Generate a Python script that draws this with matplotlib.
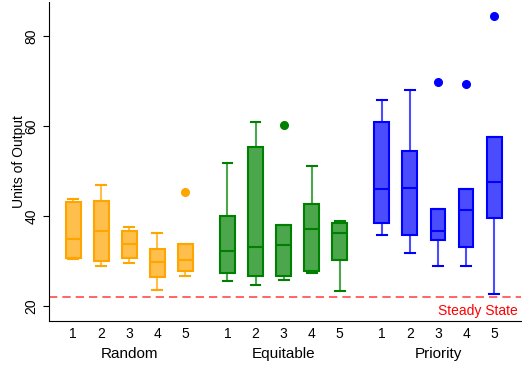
import matplotlib
matplotlib.use("Agg")
import matplotlib.pyplot as plt
from matplotlib.colors import to_rgba
import matplotlib.transforms as mtransforms

plt.rcParams['font.family'] = ['Liberation Sans', 'DejaVu Sans']

groups = ["Random", "Equitable", "Priority"]
colors = ["orange", "green", "blue"]
tick_labels = ["1", "2", "3", "4", "5"]

random_q1 = [30.7, 30.1, 30.6, 26.4, 27.9]
random_med = [34.8, 36.7, 33.7, 29.7, 30.3]
random_q3 = [43.2, 43.3, 36.8, 32.6, 33.8]
random_lo = [30.4, 29.0, 29.6, 23.6, 26.7]
random_hi = [43.7, 47.0, 37.6, 36.3, 33.8]
random_fliers = [[], [], [], [], [45.3]]

equit_q1 = [27.4, 26.7, 26.7, 27.8, 30.2]
equit_med = [32.3, 33.2, 33.5, 37.2, 36.2]
equit_q3 = [40.1, 55.3, 38.1, 42.7, 38.4]
equit_lo = [25.6, 24.7, 25.8, 27.3, 23.3]
equit_hi = [51.8, 61.0, 38.1, 51.2, 39.0]
equit_fliers = [[], [], [60.2], [], []]

prio_q1 = [38.5, 35.8, 34.7, 33.2, 39.5]
prio_med = [46.0, 46.3, 36.7, 41.4, 47.6]
prio_q3 = [60.9, 54.4, 41.5, 46.1, 57.5]
prio_lo = [35.8, 31.8, 29.0, 29.0, 22.7]
prio_hi = [65.9, 68.1, 41.5, 46.1, 57.5]
prio_fliers = [[], [], [69.9], [69.3], [84.5]]

steady_state = 22.0

group_data = [
    (random_q1, random_med, random_q3, random_lo, random_hi, random_fliers),
    (equit_q1, equit_med, equit_q3, equit_lo, equit_hi, equit_fliers),
    (prio_q1, prio_med, prio_q3, prio_lo, prio_hi, prio_fliers),
]
group_starts = [1.0, 6.5, 12.0]

fig = plt.figure(figsize=(5.23, 3.67), dpi=100)
ax = fig.add_axes([0.0937, 0.1253, 0.902, 0.869])

all_pos = []
all_labels = []
for (q1, med, q3, lo, hi, fl), start, col in zip(group_data, group_starts, colors):
    stats = []
    for i in range(5):
        stats.append(dict(q1=q1[i], med=med[i], q3=q3[i], whislo=lo[i], whishi=hi[i], fliers=fl[i]))
    pos = [start + i for i in range(5)]
    all_pos += pos
    all_labels += tick_labels
    ax.bxp(stats, positions=pos, widths=0.53, capwidths=0.35, patch_artist=True, manage_ticks=False,
           boxprops=dict(facecolor=to_rgba(col, 0.7), edgecolor=col, linewidth=1.5),
           medianprops=dict(color=col, linewidth=1.5),
           whiskerprops=dict(color=to_rgba(col, 0.7), linewidth=1.5),
           capprops=dict(color=col, linewidth=1.5),
           flierprops=dict(marker='o', markerfacecolor=col, markeredgecolor=col, markersize=5.5))

ax.axhline(steady_state, color='red', linestyle=(0, (5, 3)), linewidth=1.2, alpha=0.7)
ax.text(16.85, steady_state - 1.5, "Steady State", color='red', ha='right', va='top', fontsize=10)

ax.set_xlim(0.14, 16.95)
ax.set_ylim(16.67, 87.6)
ax.set_xticks(all_pos)
ax.set_xticklabels(all_labels, fontsize=10)
ax.tick_params(axis='x', length=0, pad=4)
ax.set_yticks([20, 40, 60, 80])
ax.set_yticklabels(["20", "40", "60", "80"], rotation=90, va='center', fontsize=10)
ax.tick_params(axis='y', length=4, pad=3.5)
ax.set_ylabel("Units of Output", fontsize=10, labelpad=-1)
ax.spines['top'].set_visible(False)
ax.spines['right'].set_visible(False)

trans = mtransforms.blended_transform_factory(ax.transData, ax.transAxes)
for g, start in zip(groups, group_starts):
    ax.text(start + 2, -33 / 319, g, transform=trans, ha='center', va='center', fontsize=11)

fig.savefig("out.png", dpi=100)
